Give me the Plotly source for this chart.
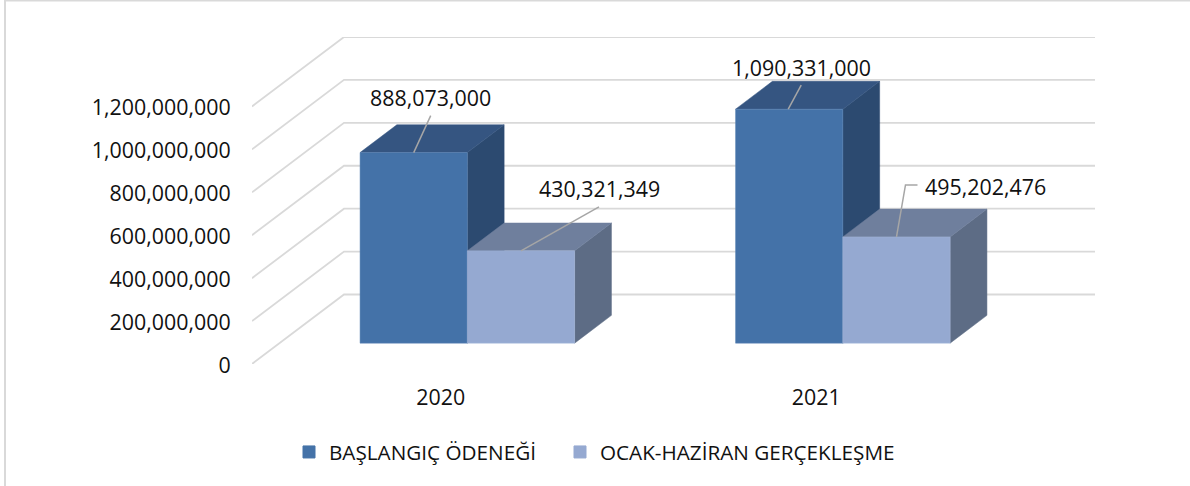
import plotly.graph_objects as go

# ---- data ----
categories = ["2020", "2021"]
series_names = ["BAŞLANGIÇ ÖDENEĞİ", "OCAK-HAZİRAN GERÇEKLEŞME"]
baslangic = [888073000, 1090331000]
gerceklesme = [430321349, 495202476]
y_ticks = [0, 200000000, 400000000, 600000000, 800000000, 1000000000, 1200000000]

# ---- style ----
W, H = 1190, 486
ML, MR, MT, MB = 252, 95, 37, 122
PW, PH = W - ML - MR, H - MT - MB
FONT = "Open Sans"
FS = 21.4
LEG_FS = 20.7
FRONT = ["#4472A8", "#95A9D1"]
TOP = ["#355581", "#6F7F9D"]
SIDE = ["#2C4A70", "#5D6C85"]
EDGE = ["#5A84B4", "#A6B8DA"]
GRID = "#D9D9D9"
LEADER = "#A6A6A6"
DEPTH_DX_PX, DEPTH_DY_PX = 92.0, 69.5
XMIN = -0.5
UNIT_X_PX = (PW - DEPTH_DX_PX) / 2.0
X_RANGE = [XMIN, XMIN + PW / UNIT_X_PX]
UNIT_Y_PX = 214.6 / 1e9
Y_RANGE = [0, PH / UNIT_Y_PX]
BAR_W = 1 / 3.5           # gap width 150 %
D0, D1 = 0.3, 0.7         # bar depth span along the oblique axis


def proj(x, y, d=0.0):
    """Oblique projection: depth d (0..1) shifts a point right and up."""
    return x + d * DEPTH_DX_PX / UNIT_X_PX, y + d * DEPTH_DY_PX / UNIT_Y_PX


def px_dx(p):
    return p / UNIT_X_PX


def px_dy(p):
    return -p / UNIT_Y_PX


fig = go.Figure()


def poly(pts, fill, edge):
    xs = [p[0] for p in pts] + [pts[0][0]]
    ys = [p[1] for p in pts] + [pts[0][1]]
    fig.add_trace(go.Scatter(x=xs, y=ys, mode="lines", fill="toself", fillcolor=fill,
                             line=dict(color=edge, width=0.5), showlegend=False,
                             hoverinfo="skip"))


# walls: gridlines run along the side wall, then along the back wall
for t in y_ticks:
    a = proj(XMIN, t, 0)
    b = proj(XMIN, t, 1)
    c = proj(XMIN + 2, t, 1)
    fig.add_trace(go.Scatter(x=[a[0], b[0], c[0]], y=[a[1], b[1], c[1]], mode="lines",
                             line=dict(color=GRID, width=1.8), showlegend=False,
                             hoverinfo="skip"))

# legend-only entries, one legend box per series
for i, name in enumerate(series_names):
    fig.add_trace(go.Bar(x=[None], y=[None], name=name, marker_color=FRONT[i],
                         marker_line=dict(color=FRONT[i], width=1),
                         legend="legend" if i == 0 else "legend2"))

# bars
all_series = [baslangic, gerceklesme]
for c in range(len(categories)):
    for s, vals in enumerate(all_series):
        v = vals[c]
        x0 = c - BAR_W + s * BAR_W
        x1 = x0 + BAR_W
        poly([proj(x1, 0, D0), proj(x1, 0, D1), proj(x1, v, D1), proj(x1, v, D0)], SIDE[s], SIDE[s])
        poly([proj(x0, v, D0), proj(x1, v, D0), proj(x1, v, D1), proj(x0, v, D1)], TOP[s], TOP[s])
        poly([proj(x0, 0, D0), proj(x1, 0, D0), proj(x1, v, D0), proj(x0, v, D0)], FRONT[s], EDGE[s])

# data labels with leader lines: [(series, category, start shift, elbow shifts, label shift)] in px
label_layout = [
    (0, 0, 0, [(17, -37)], (17, -55)),
    (1, 0, 0, [(78, -44)], (79, -62)),
    (0, 1, -1, [(13, -24)], (13, -42)),
    (1, 1, 0, [(9, -52), (21, -52)], (89, -50)),
]
annotations = []
for s, c, sh, elbows, lab in label_layout:
    v = all_series[s][c]
    x0 = c - BAR_W + s * BAR_W
    ax, ay = proj(x0 + BAR_W / 2, v, D0)
    ax += px_dx(sh)
    xs = [ax] + [ax + px_dx(e[0]) for e in elbows]
    ys = [ay] + [ay + px_dy(e[1]) for e in elbows]
    fig.add_trace(go.Scatter(x=xs, y=ys, mode="lines", line=dict(color=LEADER, width=1.5),
                             showlegend=False, hoverinfo="skip"))
    annotations.append(dict(x=ax + px_dx(lab[0]), y=ay + px_dy(lab[1]), xref="x", yref="y",
                            text=f"{v:,}", showarrow=False, xanchor="center", yanchor="middle",
                            font=dict(family=FONT, size=FS, color="#111111")))


def legend_at(px_left, px_top):
    return dict(orientation="h", x=(px_left - ML) / PW, xanchor="left",
                y=-(px_top - MT - PH) / PH, yanchor="top",
                font=dict(family=FONT, size=LEG_FS, color="#111111"),
                bgcolor="rgba(0,0,0,0)")


fig.update_layout(
    width=W, height=H,
    margin=dict(l=ML, r=MR, t=MT, b=MB, pad=0),
    paper_bgcolor="white", plot_bgcolor="white",
    font=dict(family=FONT, size=FS, color="#111111"),
    xaxis=dict(range=X_RANGE, tickmode="array", tickvals=list(range(len(categories))),
               ticktext=categories, showgrid=False, zeroline=False, showline=False,
               ticks="outside", ticklen=14, tickcolor="rgba(0,0,0,0)", ticklabelshift=1),
    yaxis=dict(range=Y_RANGE, tickmode="array", tickvals=y_ticks, tickformat=",d",
               showgrid=False, zeroline=False, showline=False,
               ticks="outside", ticklen=16, tickcolor="rgba(0,0,0,0)", ticklabelshift=1),
    legend=legend_at(289, 432),
    legend2=legend_at(560, 432),
    annotations=annotations,
    showlegend=True,
    shapes=[
        dict(type="line", xref="paper", yref="paper", x0=(5 - ML) / PW, x1=(W - ML) / PW,
             y0=(PH + MT - 0.5) / PH, y1=(PH + MT - 0.5) / PH,
             line=dict(color=GRID, width=2)),
        dict(type="line", xref="paper", yref="paper", x0=(5 - ML) / PW, x1=(5 - ML) / PW,
             y0=(PH + MT) / PH, y1=-MB / PH, line=dict(color=GRID, width=2)),
    ],
)

fig.write_html("out.html", config=dict(displayModeBar=False),
               post_script="document.body.style.margin='0';document.documentElement.style.overflow='hidden';")
